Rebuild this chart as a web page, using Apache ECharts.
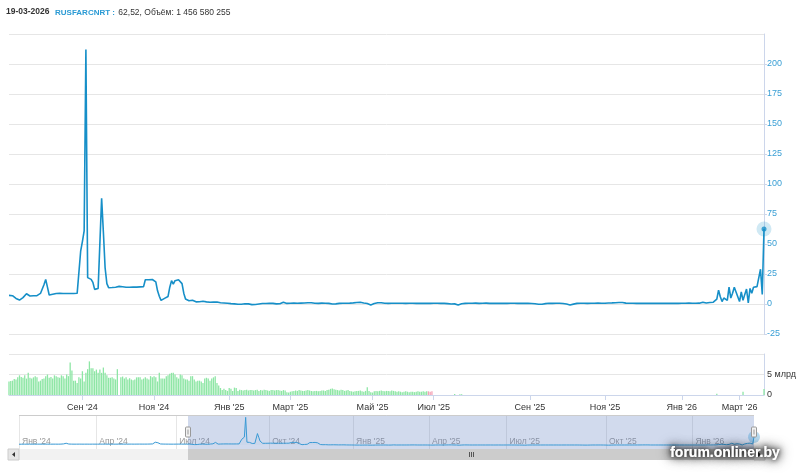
<!DOCTYPE html>
<html><head><meta charset="utf-8">
<script src="https://cdn.jsdelivr.net/npm/echarts@6.0.0/dist/echarts.min.js"></script>
<style>html,body{margin:0;padding:0;background:#fff}#c{width:800px;height:473px}</style>
</head><body><div id="c"></div>
<script>
// ---------- text ----------
const headerDate = '19-03-2026';
const headerTicker = 'RUSFARCNRT :';
const headerValues = '62,52, Объём: 1 456 580 255';
const watermark = 'forum.onliner.by';

// ---------- time structure (points per month, ordinal axis) ----------
const earlyMonths = ["Янв '24","Фев '24","Март '24","Апр '24","Май '24","Июн '24","Июл '24"];
const earlyMonthPoints = [19,20,20,21,20,20,9];
const mainMonths = ["Июл '24","Авг '24","Сен '24","Окт '24","Ноя '24","Дек '24","Янв '25","Фев '25","Март '25","Апр '25","Май '25","Июн '25","Июл '25","Авг '25","Сен '25","Окт '25","Ноя '25","Дек '25","Янв '26","Фев '26","Март '26"];
const mainMonthPoints = [20,22,20,21,22,21,15,20,23,24,17,18,27,28,21,22,22,22,14,19,15];

// ---------- tick labels ----------
const mainTickLabels = ["Сен '24","Ноя '24","Янв '25","Март '25","Май '25","Июл '25","Сен '25","Ноя '25","Янв '26","Март '26"];
const navTickLabels = ["Янв '24","Апр '24","Июл '24","Окт '24","Янв '25","Апр '25","Июл '25","Окт '25","Янв '26"];

// ---------- navigator-only history (rate, %) ----------
const earlyRate = [
6.5,6.6,6.8,7.0,7.1,7.0,6.9,7.0,7.2,7.3,7.1,7.0,6.9,7.0,7.1,7.2,7.3,7.1,7.0,7.0,
7.1,7.2,7.1,7.0,7.0,7.1,7.2,7.3,7.2,7.1,7.0,7.2,7.4,7.8,9,12,14,10,8,7.5,
7.3,7.2,7.1,7.0,7.1,7.2,7.3,7.2,7.1,7.0,7.1,7.2,7.2,7.1,7.0,7.1,7.2,7.3,7.2,7.1,
7.0,7.1,7.2,7.3,7.4,7.3,7.2,7.1,7.2,7.3,7.2,7.1,7.0,7.1,7.2,7.3,7.2,7.1,7.2,7.3,
7.4,7.3,7.2,7.3,7.4,7.5,7.4,7.3,7.2,7.3,7.4,7.5,7.6,7.5,7.4,7.3,7.4,7.5,7.6,7.8,
8.0,8.2,9,14,22,25,18,10,8.5,8.0,7.8,7.6,7.5,7.4,7.3,7.2,7.1,7.0,7.1,7.2,
7.3,7.4,7.5,7.6,7.5,7.4,7.3,7.2,7.2
];

// ---------- main rate (%) ----------
const rate = [
7.2,7.3,6.9,5.8,4.6,3.8,3.3,4.2,5.3,6.8,8.5,7.4,6.7,7.0,6.9,5.8,7.0,8.0,8.8,9.6,
16,20.5,14,7.5,7.8,8.2,8.6,8.8,8.9,8.9,8.8,8.8,8.7,8.7,8.6,8.7,8.8,8.8,8.9,8.9,
9.0,44,52,61,212,22,21,20.5,18,12.2,11.7,13,13,88,60,30,17,13.6,13.6,13.7,
13.8,14.0,14.4,14.7,14.6,14.4,14.2,14.0,13.9,14.0,14.1,14.2,14.2,14.1,14.2,14.3,14.4,14.5,20.2,20.0,
20.2,20.6,20.4,20.0,18.5,11,6.5,3,3.5,4.7,5.5,6.3,14,19.4,16.5,19.4,19.8,20.2,20.6,17,
9,4.2,3.2,2.7,2.2,3.1,2.5,1.8,1.7,1.9,2.1,2.3,2.2,1.8,1.5,1.4,1.5,1.6,1.7,1.7,
1.3,1.0,0.9,0.8,0.7,0.6,0.5,0.3,0.2,0.1,0.0,-0.2,-0.3,-0.2,0.0,0.2,0.3,0.1,-0.3,-0.5,
-0.6,-0.4,-0.2,0.0,0.3,0.4,0.5,0.4,0.6,0.5,0.6,0.5,0.4,0.1,-0.3,0.2,0.9,1.4,0.8,0.5,
0.5,0.6,0.6,0.7,0.6,0.6,0.7,0.7,0.8,0.8,0.9,1.1,1.4,1.1,0.8,0.6,0.6,0.5,0.6,0.7,
0.7,0.6,0.6,0.5,0.3,0.0,-0.3,0.1,0.4,0.5,0.6,0.6,0.7,0.6,0.6,0.7,0.8,0.9,1.0,1.2,
1.3,1.4,1.1,0.8,0.6,0.4,0.0,-0.8,-0.2,0.4,0.8,1.1,1.4,1.0,0.7,0.6,0.6,0.5,0.6,0.6,
0.5,0.6,0.7,0.6,0.5,0.6,0.6,0.5,0.5,0.6,0.7,0.6,0.6,0.5,0.4,0.5,0.6,0.6,0.5,0.5,
0.4,0.5,0.6,0.6,0.7,0.6,0.5,0.5,0.6,0.5,0.4,0.3,0.2,0.0,-0.3,0.1,0.0,-0.8,-0.3,0.2,
0.4,0.5,0.6,0.6,0.5,0.6,0.7,0.7,0.6,0.5,0.5,0.6,0.6,0.7,0.6,0.5,0.5,0.6,0.6,0.5,
0.5,0.6,0.6,0.5,0.4,0.5,0.6,0.6,0.7,0.6,0.6,0.5,0.5,0.6,0.6,0.5,0.5,0.6,0.5,0.4,
0.3,0.2,0.0,-0.2,-0.3,-0.2,0.1,0.3,0.5,0.6,0.6,0.5,0.6,0.6,0.5,0.6,0.5,0.4,0.3,0.0,
-0.4,-0.8,-0.6,-0.1,0.3,0.5,0.6,0.6,0.7,0.6,0.6,0.5,0.6,0.6,0.5,0.6,0.6,0.7,0.7,0.6,
0.6,0.6,0.7,0.8,0.8,0.9,1.0,1.1,1.2,1.3,1.4,1.2,0.9,0.7,0.6,0.6,0.5,0.6,0.6,0.5,
0.5,0.6,0.6,0.5,0.5,0.6,0.6,0.5,0.5,0.6,0.6,0.5,0.6,0.6,0.5,0.5,0.6,0.6,0.5,0.5,
0.6,0.6,0.5,0.5,0.6,0.6,0.5,0.6,0.6,0.7,0.6,0.6,0.7,0.6,0.6,0.7,1.0,1.5,1.2,0.8,
0.8,1.2,2.5,1.5,
1.0,4,11.5,6,2,5,3.5,3,14,5,9,14,10,6,2,10,3,8,12.5,1,13,9,14,13,14.5,15,29,8,62.52
];

// ---------- volume (billions RUB) ----------
const volume = [
3.3,3.4,3.5,3.9,3.8,4.3,4.8,4.4,4.2,4.8,4.0,5.4,4.2,4.0,4.3,4.6,4.3,3.3,3.5,3.9,
4.0,4.6,5.0,4.2,4.4,4.0,4.8,4.6,4.3,4.2,4.8,4.6,4.0,5.0,4.6,7.9,6.0,3.5,3.5,2.9,
4.3,4.0,5.8,3.3,5.4,6.3,8.2,6.5,6.5,5.8,6.2,5.4,6.2,5.4,6.7,5.4,4.8,4.2,4.2,4.3,
4.0,3.8,6.3,0,4.3,4.5,4.0,4.3,3.8,4.1,3.8,3.6,3.8,4.3,4.3,4.3,3.8,4.0,4.3,4.0,
3.8,4.6,4.3,4.6,4.3,3.3,5.4,4.0,4.0,4.0,4.6,4.8,5.2,5.4,5.4,5.0,4.3,4.0,5.0,4.8,
4.0,3.8,3.8,3.5,4.6,4.6,3.8,3.3,3.5,3.5,3.3,2.9,4.0,4.2,4.0,3.5,4.0,4.3,4.6,2.9,
2.3,1.7,1.25,1.5,1.25,1.0,1.7,1.5,1.0,1.8,1.7,1.0,1.3,1.2,1.1,1.2,1.3,1.1,1.2,1.2,
1.1,1.2,1.3,1.0,1.2,1.1,1.3,1.2,1.1,1.0,1.2,1.2,1.1,1.2,1.2,1.1,1.0,1.2,1.1,0.7,
0.6,0.8,0.9,1.0,1.1,1.0,1.2,1.1,1.0,1.0,1.1,1.2,1.1,1.0,0.9,1.0,1.0,0.9,1.0,1.1,
1.1,1.0,1.2,1.3,1.5,1.6,1.4,1.3,1.2,1.1,1.3,1.2,1.0,1.1,1.2,1.0,0.9,0.8,0.9,1.0,
1.0,1.1,0.9,0.8,1.0,1.9,1.0,0.7,0.6,0.9,1.0,0.9,1.0,1.1,1.0,0.9,1.0,1.0,0.9,1.1,
1.0,0.9,0.8,0.9,0.8,0.7,0.8,0.9,0.8,0.7,0.8,0.8,0.7,0.8,0.9,0.8,0.8,0.9,0.8,0.9,
0.9,0.8,0.9,0,0,0,0,0,0,0,0,0,0,0,0,0.25,0,0,0.2,0.2,
0,0,0,0,0,0,0,0,0,0,0,0,0,0,0,0,0,0,0,0,
0,0,0,0,0,0,0,0,0,0,0,0,0,0,0,0,0,0,0,0,
0,0,0,0,0,0,0,0,0,0,0,0,0,0,0,0,0,0,0,0,
0,0,0,0,0,0,0,0,0,0,0,0,0,0,0,0,0,0,0,0,
0,0,0,0,0,0,0,0,0,0,0,0,0,0,0,0,0,0,0,0,
0,0,0,0,0,0,0,0,0,0,0,0,0,0,0,0,0,0,0,0,
0,0,0,0,0,0,0,0,0,0,0,0,0,0,0,0,0,0,0,0,
0,0,0,0,0,0.3,0,0,0,0,0,0,0,0,0,0,0,0,0,0,
0.8,0,0,0,0,0,0,0,0,0,0,0,1.46
];
const downVolumeDays = [240,241,242];

// ---------- build helpers ----------
function monthStarts(names, counts, offset, into) {
  let k = offset;
  names.forEach((n, i) => { if (into[n] === undefined) into[n] = k; k += counts[i]; });
  return into;
}
const mainStart = monthStarts(mainMonths, mainMonthPoints, 0, {});
const mainLabelAt = {};
mainTickLabels.forEach(l => { mainLabelAt[mainStart[l]] = l; });
const navStart = monthStarts(earlyMonths, earlyMonthPoints, 0, {});
monthStarts(mainMonths, mainMonthPoints, earlyRate.length, navStart);
const navLabelAt = {};
navTickLabels.forEach(l => { if (navStart[l] !== undefined) navLabelAt[navStart[l]] = l; });

const navData = earlyRate.concat(rate);
const mainCats = rate.map((_, i) => String(i));
const navCats = navData.map((_, i) => String(i));
const last = rate.length - 1;

const FONT = 'Liberation Sans';
const LINE = '#168fc8';
const GRIDC = '#e6e6e6';
const AXISC = '#ccd6eb';

const chart = echarts.init(document.getElementById('c'), null, {renderer: 'canvas'});
const option = {
  animation: false,
  backgroundColor: '#ffffff',
  textStyle: {fontFamily: FONT},
  grid: [
    {left: 9, right: 36, top: 34, height: 300, outerBoundsMode: 'none', containLabel: false},
    {left: 9, right: 36, top: 354, height: 41, outerBoundsMode: 'none', containLabel: false},
    {left: 19, right: 46, top: 415, height: 34, outerBoundsMode: 'none', containLabel: false}
  ],
  xAxis: [
    {type: 'category', gridIndex: 0, data: mainCats, boundaryGap: false, show: false},
    {type: 'category', gridIndex: 1, data: mainCats, boundaryGap: false, offset: 3,
      axisLine: {show: true, lineStyle: {color: AXISC, width: 1}},
      axisTick: {show: true, length: 5, lineStyle: {color: AXISC}, interval: (i) => mainLabelAt[i] !== undefined},
      axisLabel: {show: true, interval: (i) => mainLabelAt[i] !== undefined, formatter: (v, i) => mainLabelAt[i] || '',
        color: '#333333', fontSize: 9, fontFamily: FONT, margin: 5, hideOverlap: false},
      splitLine: {show: false}},
    {type: 'category', gridIndex: 2, data: navCats, boundaryGap: false,
      axisLine: {show: false}, axisTick: {show: false},
      axisLabel: {show: true, inside: true, interval: (i) => navLabelAt[i] !== undefined, formatter: (v, i) => navLabelAt[i] || '',
        color: '#999999', fontSize: 8.5, fontFamily: FONT, margin: 3, align: 'left', padding: [0, 0, 0, 3], hideOverlap: false},
      splitLine: {show: true, interval: (i) => navLabelAt[i] !== undefined, lineStyle: {color: GRIDC, width: 1}}}
  ],
  yAxis: [
    {type: 'value', gridIndex: 0, position: 'right', min: -25, max: 225, interval: 25,
      axisLine: {show: true, lineStyle: {color: AXISC}},
      axisTick: {show: true, length: 3, lineStyle: {color: AXISC}},
      axisLabel: {color: '#3a9fd5', fontSize: 9, fontFamily: FONT, margin: 3, showMaxLabel: false, showMinLabel: true},
      splitLine: {show: true, lineStyle: {color: GRIDC, width: 1}}},
    {type: 'value', gridIndex: 1, position: 'right', min: 0, max: 10, interval: 5,
      axisLine: {show: true, lineStyle: {color: AXISC}},
      axisTick: {show: false},
      axisLabel: {color: '#333333', fontSize: 9, fontFamily: FONT, margin: 3, showMaxLabel: false,
        formatter: (v) => v === 0 ? '0' : v + ' млрд'},
      splitLine: {show: true, lineStyle: {color: GRIDC, width: 1}}},
    {type: 'value', gridIndex: 2, min: -30, max: 230, show: false, splitLine: {show: false}}
  ],
  series: [
    {type: 'line', name: 'RUSFARCNRT', xAxisIndex: 0, yAxisIndex: 0, data: rate, showSymbol: false,
      lineStyle: {color: LINE, width: 1.6}, itemStyle: {color: LINE}, z: 3},
    {type: 'scatter', xAxisIndex: 0, yAxisIndex: 0, data: [[last, rate[last]]], symbolSize: 15,
      itemStyle: {color: 'rgba(22,143,200,0.25)'}, z: 4},
    {type: 'scatter', xAxisIndex: 0, yAxisIndex: 0, data: [[last, rate[last]]], symbolSize: 5,
      itemStyle: {color: LINE}, z: 5},
    {type: 'bar', xAxisIndex: 1, yAxisIndex: 1, barWidth: 1.3,
      data: volume.map((v, i) => ({value: v, itemStyle: {color: downVolumeDays.includes(i) ? '#f4a3b6' : '#8ee6a5'}}))},
    {type: 'line', xAxisIndex: 2, yAxisIndex: 2, data: navData, showSymbol: false,
      lineStyle: {color: '#3a9ad5', width: 1}, areaStyle: {color: 'rgba(58,154,213,0.06)'},
      markArea: {silent: true, itemStyle: {color: 'rgba(102,133,194,0.3)'},
        data: [[{xAxis: earlyRate.length}, {xAxis: navData.length - 1}]]}},
    {type: 'scatter', xAxisIndex: 2, yAxisIndex: 2, data: [[navData.length - 1, navData[navData.length - 1]]],
      symbolSize: 12, itemStyle: {color: 'rgba(58,154,213,0.45)'}, z: 4}
  ]
};
chart.setOption(option);

// navigator chrome placed from the library's own scale
const hx1 = chart.convertToPixel({xAxisIndex: 2}, earlyRate.length);
const hx2 = chart.convertToPixel({xAxisIndex: 2}, navData.length - 1);
const navL = chart.convertToPixel({xAxisIndex: 2}, 0);
const sbY = 449, sbH = 11;
const gripX = Math.round((hx1 + hx2) / 2) + 0.5;
function handle(x) {
  return [
    {type: 'rect', shape: {x: x - 2.5, y: 427, width: 5, height: 10, r: 1}, style: {fill: '#f2f2f2', stroke: '#999999', lineWidth: 1}, z: 50},
    {type: 'line', shape: {x1: x, y1: 429.5, x2: x, y2: 434.5}, style: {stroke: '#999999', lineWidth: 1}, z: 51}
  ];
}
const wmStyle = (extra) => Object.assign({text: watermark, x: 725, y: 453, align: 'center', verticalAlign: 'middle',
  font: 'bold 14px "Liberation Sans"', fill: '#ffffff'}, extra);
chart.setOption({
  graphic: [
    {type: 'text', left: 6, top: 7, style: {text: headerDate, font: 'bold 8.5px "Liberation Sans"', fill: '#333333'}},
    {type: 'text', left: 55, top: 7, style: {
      text: '{t|' + headerTicker + '} {v|' + headerValues + '}',
      rich: {
        t: {fontFamily: FONT, fontWeight: 'bold', fontSize: 8, fill: '#2a9ad4', color: '#2a9ad4'},
        v: {fontFamily: FONT, fontSize: 8.5, fill: '#333333', color: '#333333'}
      }}},
    {type: 'line', shape: {x1: navL, y1: 415.5, x2: hx2, y2: 415.5}, style: {stroke: '#cccccc', lineWidth: 1}, z: 40},
    {type: 'rect', shape: {x: navL - 11, y: sbY, width: (hx2 - navL) + 22, height: sbH}, style: {fill: '#f2f2f2'}, z: 40},
    {type: 'rect', shape: {x: navL - 11, y: sbY, width: 11, height: sbH}, style: {fill: '#e6e6e6', stroke: '#cccccc', lineWidth: 1}, z: 41},
    {type: 'polygon', shape: {points: [[navL - 4, sbY + 3], [navL - 4, sbY + 8], [navL - 7, sbY + 5.5]]}, style: {fill: '#333333'}, z: 42},
    {type: 'rect', shape: {x: hx2, y: sbY, width: 11, height: sbH}, style: {fill: '#e6e6e6', stroke: '#cccccc', lineWidth: 1}, z: 41},
    {type: 'polygon', shape: {points: [[hx2 + 4, sbY + 3], [hx2 + 4, sbY + 8], [hx2 + 7, sbY + 5.5]]}, style: {fill: '#333333'}, z: 42},
    {type: 'rect', shape: {x: hx1, y: sbY, width: hx2 - hx1, height: sbH}, style: {fill: '#cccccc'}, z: 41},
    ...[-2, 0, 2].map(d => ({type: 'line', shape: {x1: gripX + d, y1: sbY + 3, x2: gripX + d, y2: sbY + 8},
      style: {stroke: '#555555', lineWidth: 1}, z: 42})),
    ...handle(hx1), ...handle(hx2),
    {type: 'text', style: wmStyle({textShadowColor: 'rgba(0,0,0,0.95)', textShadowBlur: 14}), z: 90},
    {type: 'text', style: wmStyle({textShadowColor: 'rgba(0,0,0,0.95)', textShadowBlur: 8}), z: 91},
    {type: 'text', style: wmStyle({textShadowColor: 'rgba(0,0,0,0.8)', textShadowBlur: 4}), z: 92}
  ]
});
</script></body></html>
